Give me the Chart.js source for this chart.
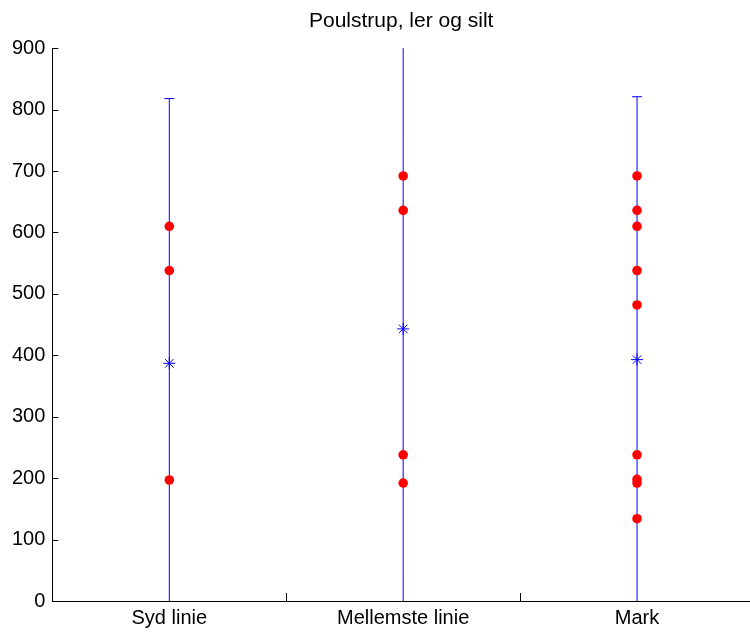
<!DOCTYPE html>
<html>
<head>
<meta charset="utf-8">
<script src="https://cdn.jsdelivr.net/npm/chart.js@4.4.1/dist/chart.umd.min.js"></script>
<style>
  html, body { margin: 0; padding: 0; background: #fff; overflow: hidden; }
  #wrap { width: 750px; height: 632px; overflow: hidden; }
</style>
</head>
<body>
<div id="wrap"><canvas id="chart" width="757" height="632"></canvas></div>
<script>
// data
const categories = ["Syd linie", "Mellemste linie", "Mark"];
const means = [387, 443, 393];
const upper = [818, 960, 821];
const lower = [-44, -74, -35];
const sydValues = [610, 538, 197];
const mellemsteValues = [692, 636, 238, 192];
const markValues = [692, 636, 610, 538, 482, 238, 198, 192, 134];
const yTicks = [0, 100, 200, 300, 400, 500, 600, 700, 800, 900];
const xTickMarks = [1.5, 2.5];

const groups = [sydValues, mellemsteValues, markValues];

// MATLAB style ticks pointing into the axes
const innerTicks = {
  id: "innerTicks",
  afterDraw(chart) {
    const { ctx, chartArea, scales } = chart;
    ctx.save();
    ctx.strokeStyle = "#000";
    ctx.lineWidth = 1;
    ctx.beginPath();
    yTicks.forEach(v => {
      const y = Math.round(scales.y.getPixelForValue(v)) + 0.5;
      ctx.moveTo(chartArea.left, y);
      ctx.lineTo(chartArea.left + 6, y);
    });
    xTickMarks.forEach(v => {
      const x = Math.round(scales.x.getPixelForValue(v)) + 0.5;
      ctx.moveTo(x, chartArea.bottom);
      ctx.lineTo(x, chartArea.bottom - 8);
    });
    ctx.stroke();
    ctx.restore();
  }
};

const errorBars = categories.map((c, i) => ({
  type: "line",
  data: [{ x: i + 1, y: lower[i] }, { x: i + 1, y: upper[i] }],
  borderColor: "#0000ff",
  borderWidth: 1,
  pointRadius: 0,
  order: 4
}));

const dots = [];
groups.forEach((vals, i) => vals.forEach(v => dots.push({ x: i + 1, y: v })));

Chart.defaults.font.family = "'Liberation Sans', Arial, Helvetica, sans-serif";
Chart.defaults.color = "#000";

new Chart(document.getElementById("chart"), {
  type: "scatter",
  data: {
    datasets: [
      ...errorBars,
      {
        data: categories.map((c, i) => ({ x: i + 1, y: upper[i] })),
        pointStyle: "line",
        pointRadius: 5,
        borderColor: "#0000ff",
        borderWidth: 1,
        order: 3
      },
      {
        data: categories.map((c, i) => ({ x: i + 1, y: means[i] })),
        pointStyle: "star",
        pointRadius: 6,
        borderColor: "#0000ff",
        borderWidth: 1,
        order: 1
      },
      {
        data: dots,
        pointStyle: "circle",
        pointRadius: 4.8,
        backgroundColor: "#ff0000",
        borderColor: "#ff0000",
        borderWidth: 0,
        order: 2
      }
    ]
  },
  options: {
    responsive: false,
    animation: false,
    layout: { padding: { left: 5, right: 0, top: 0, bottom: -3 } },
    plugins: {
      legend: { display: false },
      tooltip: { enabled: false },
      title: {
        display: true,
        text: "Poulstrup, ler og silt",
        fullSize: false,
        color: "#000",
        font: { size: 21, weight: "normal" },
        padding: { top: 9, bottom: 14 }
      }
    },
    scales: {
      x: {
        type: "linear",
        min: 0.5,
        max: 3.483,
        grid: { display: false, drawTicks: false },
        border: { display: true, color: "#000", width: 1 },
        afterBuildTicks: axis => {
          axis.ticks = categories.map((c, i) => ({ value: i + 1 }));
        },
        ticks: {
          autoSkip: false,
          maxRotation: 0,
          padding: 5,
          font: { size: 20 },
          callback: v => categories[v - 1]
        }
      },
      y: {
        min: 0,
        max: 900,
        grid: { display: false, drawTicks: false },
        border: { display: true, color: "#000", width: 1 },
        afterBuildTicks: axis => {
          axis.ticks = yTicks.map(v => ({ value: v }));
        },
        ticks: { padding: 7, font: { size: 20 } }
      }
    }
  },
  plugins: [innerTicks]
});
</script>
</body>
</html>
